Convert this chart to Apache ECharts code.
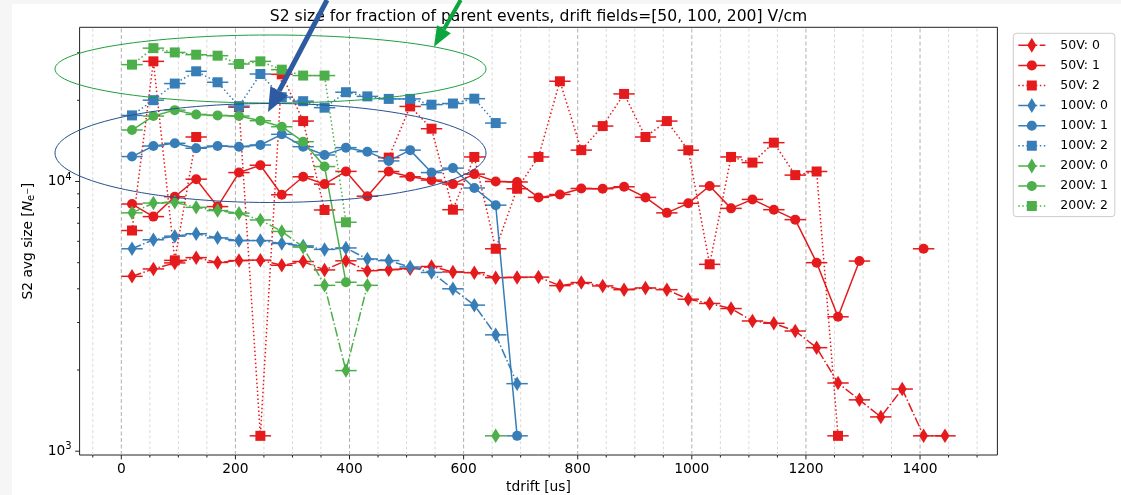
<!DOCTYPE html>
<html>
<head>
<meta charset="utf-8">
<title>S2 size for fraction of parent events</title>
<script src="https://cdn.jsdelivr.net/npm/echarts@6/dist/echarts.min.js"></script>
<style>
  html, body { margin: 0; padding: 0; background: #fff; }
  #chart { width: 1121px; height: 495px; }
</style>
</head>
<body>
<div id="chart"></div>
<script>
// bin centres of tdrift [us], bins are 37.5 us wide
const tdrift = [18.75, 56.25, 93.75, 131.25, 168.75, 206.25, 243.75, 281.25, 318.75, 356.25,
  393.75, 431.25, 468.75, 506.25, 543.75, 581.25, 618.75, 656.25, 693.75, 731.25,
  768.75, 806.25, 843.75, 881.25, 918.75, 956.25, 993.75, 1031.25, 1068.75, 1106.25,
  1143.75, 1181.25, 1218.75, 1256.25, 1293.75, 1331.25, 1368.75, 1406.25, 1443.75];
const binHalfWidth = 18.75;

// S2 avg size [N_e-] (null = no point)
const s50V_0 = [4450, 4740, 4990, 5220, 5010, 5090, 5110, 4890, 5050, 4700,
  5080, 4670, 4710, 4750, 4840, 4620, 4590, 4400, 4410, 4420,
  4110, 4220, 4100, 3970, 4030, 3970, 3660, 3530, 3380, 3040,
  2980, 2790, 2420, 1790, 1550, 1340, 1700, 1140, 1140];
const s50V_1 = [8250, 7410, 8780, 10200, 8070, 10790, 11490, 8930, 10410, 9780,
  10900, 8820, 10890, 10410, 10120, 9780, 10650, 10000, 9960, 8730,
  8950, 9420, 9400, 9560, 8730, 7650, 8300, 9620, 7950, 8580,
  7860, 7220, 5000, 3150, 5070, null, null, 5630];
const s50V_2 = [6580, 27890, 5100, 14620, null, 18860, 1140, 24970, 16750, 7840,
  null, null, 12260, 18980, 15690, 7860, 12330, 5630, 9400, 12330,
  23530, 13070, 16050, 21120, 14620, 16750, 13060, 4930, 12330, 11750,
  13930, 10560, 10890, 1140];
const s100V_0 = [5630, 6080, 6270, 6400, 6180, 6040, 6040, 5890, 5770, 5600,
  5670, 5160, 5090, 4820, 4600, 4000, 3480, 2700, 1780];
const s100V_1 = [12370, 13540, 13860, 13280, 13540, 13460, 13660, 14960, 13460, 12540,
  13350, 12900, 11920, 13070, 10790, 11210, 9460, 8170, 1140];
const s100V_2 = [17580, 20020, 23070, 25620, 23330, 19030, 25030, 20540, 19850, 18780,
  21430, 20680, 20240, 20240, 19270, 19460, 20280, 16470];
const s200V_0 = [7650, 8320, 8370, 8020, 7800, 7630, 7200, 6530, 5710, 4120,
  1990, 4120, null, null, null, null, null, 1140];
const s200V_1 = [15520, 17480, 18390, 17730, 17580, 17480, 16800, 15960, 14050, 11360, 4230];
const s200V_2 = [27120, 31220, 30100, 29520, 29270, 27260, 27890, 25980, 24700, 24700, 7060];

// axes
const xMin = -73.1, xMax = 1535.6;
const yMin = 968, yMax = 37300;
const xMajorTicks = [0, 200, 400, 600, 800, 1000, 1200, 1400];
const xMinorTicks = [-50, 50, 100, 150, 250, 300, 350, 450, 500, 550, 650, 700, 750,
  850, 900, 950, 1050, 1100, 1150, 1250, 1300, 1350, 1450, 1500];
const yMajorTicks = [1000, 10000];
const yMinorTicks = [2000, 3000, 4000, 5000, 6000, 7000, 8000, 9000, 20000, 30000];

const RED = "#e41a1c", BLUE = "#377eb8", GREEN = "#4daf4a";
const FONT = "DejaVu Sans";
const LABEL_SIZE = 13.8;
const DASHDOT = [9.6, 2.4, 1.5, 2.4];
const DOTTED = [1.5, 2.5];

const seriesDefs = [
  { name: "50V: 0", values: s50V_0, color: RED, marker: "diamond", dash: "dashdot" },
  { name: "50V: 1", values: s50V_1, color: RED, marker: "circle", dash: "solid" },
  { name: "50V: 2", values: s50V_2, color: RED, marker: "square", dash: "dotted" },
  { name: "100V: 0", values: s100V_0, color: BLUE, marker: "diamond", dash: "dashdot" },
  { name: "100V: 1", values: s100V_1, color: BLUE, marker: "circle", dash: "solid" },
  { name: "100V: 2", values: s100V_2, color: BLUE, marker: "square", dash: "dotted" },
  { name: "200V: 0", values: s200V_0, color: GREEN, marker: "diamond", dash: "dashdot" },
  { name: "200V: 1", values: s200V_1, color: GREEN, marker: "circle", dash: "solid" },
  { name: "200V: 2", values: s200V_2, color: GREEN, marker: "square", dash: "dotted" },
];

const symbolSize = { diamond: [9, 14.5], circle: 10, square: 10 };
const symbolName = { diamond: "diamond", circle: "circle", square: "rect" };
const lineType = { dashdot: DASHDOT, solid: "solid", dotted: DOTTED };

// legend icons: line sample + marker, drawn in a 32 x 15 box
function rectPath(x0, y0, x1, y1) {
  return `M${x0} ${y0}L${x1} ${y0}L${x1} ${y1}L${x0} ${y1}Z`;
}
function legendIcon(def) {
  let segs;
  if (def.dash === "solid") segs = [[0, 27]];
  else if (def.dash === "dotted") segs = [[0, 1.5], [4, 5.5], [8, 9.5], [17.5, 19], [21.5, 23], [25.5, 27]];
  else segs = [[0, 9.6], [17.4, 19], [21.4, 27]];
  let p = "M0 0M32 15";
  segs.forEach((s) => { p += rectPath(s[0], 6.75, s[1], 8.25); });
  if (def.marker === "diamond") p += "M9 7.5L13.5 0L18 7.5L13.5 15Z";
  else if (def.marker === "square") p += rectPath(8.5, 2.5, 18.5, 12.5);
  else {
    for (let i = 0; i < 24; i++) {
      const a = (i / 24) * Math.PI * 2;
      p += (i === 0 ? "M" : "L") + (13.5 + 5 * Math.cos(a)).toFixed(2) + " " + (7.5 + 5 * Math.sin(a)).toFixed(2);
    }
    p += "Z";
  }
  return "path://" + p;
}

function points(values) {
  return values.map((v, i) => [tdrift[i], v == null ? "-" : v]);
}

const series = [];

// vertical grid lines (major dashed, minor lighter)
series.push({
  type: "custom",
  name: "grid",
  silent: true,
  z: 1,
  data: xMajorTicks.map((v) => [v, yMin, 1]).concat(xMinorTicks.map((v) => [v, yMin, 0])),
  encode: { x: 0, y: 1 },
  renderItem: (params, api) => {
    const v = api.value(0);
    const major = api.value(2) === 1;
    const a = api.coord([v, yMin]);
    const b = api.coord([v, yMax]);
    return {
      type: "line",
      shape: { x1: a[0], y1: a[1], x2: b[0], y2: b[1] },
      style: major
        ? { stroke: "#b0b0b0", lineWidth: 1, lineDash: [4, 2.5] }
        : { stroke: "#d6d6d6", lineWidth: 0.9, lineDash: [3, 2.5] },
    };
  },
});

seriesDefs.forEach((def) => {
  series.push({
    type: "custom",
    name: def.name + " xerr",
    silent: true,
    data: points(def.values).filter((p) => p[1] !== "-"),
    encode: { x: 0, y: 1 },
    renderItem: (params, api) => {
      const x = api.value(0);
      const y = api.value(1);
      const a = api.coord([x - binHalfWidth, y]);
      const b = api.coord([x + binHalfWidth, y]);
      return {
        type: "line",
        shape: { x1: a[0], y1: a[1], x2: b[0], y2: b[1] },
        style: { stroke: def.color, lineWidth: 1.5 },
      };
    },
  });
  series.push({
    type: "line",
    name: def.name,
    data: points(def.values),
    symbol: symbolName[def.marker],
    symbolSize: symbolSize[def.marker],
    showSymbol: true,
    connectNulls: false,
    silent: true,
    lineStyle: { color: def.color, width: 1.5, type: lineType[def.dash] },
    itemStyle: { color: def.color, borderWidth: 0 },
    emphasis: { disabled: true },
  });
});

// tick marks on the spines
series.push({
  type: "custom",
  name: "xticks",
  silent: true,
  clip: false,
  z: 5,
  data: xMajorTicks.map((v) => [v, yMin, 4.4]).concat(xMinorTicks.map((v) => [v, yMin, 2.5])),
  encode: { x: 0, y: 1 },
  renderItem: (params, api) => {
    const p = api.coord([api.value(0), yMin]);
    return {
      type: "line",
      shape: { x1: p[0], y1: p[1], x2: p[0], y2: p[1] + api.value(2) },
      style: { stroke: "#222", lineWidth: 1 },
    };
  },
});
series.push({
  type: "custom",
  name: "yticks",
  silent: true,
  clip: false,
  z: 5,
  data: yMajorTicks.map((v) => [xMin, v, 4.4]).concat(yMinorTicks.map((v) => [xMin, v, 2.5])),
  encode: { x: 0, y: 1 },
  renderItem: (params, api) => {
    const p = api.coord([xMin, api.value(1)]);
    return {
      type: "line",
      shape: { x1: p[0], y1: p[1], x2: p[0] - api.value(2), y2: p[1] },
      style: { stroke: "#222", lineWidth: 1 },
    };
  },
});

function isPow10(v) {
  const l = Math.log10(v);
  return Math.abs(l - Math.round(l)) < 1e-6;
}

const chart = echarts.init(document.getElementById("chart"), null, { renderer: "canvas" });
chart.setOption({
  animation: false,
  backgroundColor: "#fff",
  title: {
    text: "S2 size for fraction of parent events, drift fields=[50, 100, 200] V/cm",
    left: 538.5,
    top: 8.5,
    textAlign: "center",
    padding: 0,
    textStyle: { fontFamily: FONT, fontSize: 15.6, fontWeight: "normal", color: "#000" },
  },
  grid: {
    left: 79.6,
    top: 27.3,
    width: 917.8,
    height: 427.7,
    show: true,
    borderColor: "#222",
    borderWidth: 1,
    backgroundColor: "transparent",
    containLabel: false,
    outerBoundsMode: "none",
  },
  legend: {
    orient: "vertical",
    left: 1013.3,
    top: 33.3,
    padding: [4.5, 7, 3, 5],
    itemWidth: 32,
    itemHeight: 15,
    itemGap: 5.1,
    backgroundColor: "#fff",
    borderColor: "#cccccc",
    borderWidth: 1,
    borderRadius: 3,
    selectedMode: false,
    itemStyle: { borderWidth: 0 },
    textStyle: { fontFamily: FONT, fontSize: 12.5, color: "#000", padding: [0, 0, 0, 5] },
    data: seriesDefs.map((d) => ({ name: d.name, icon: legendIcon(d) })),
  },
  xAxis: {
    type: "value",
    min: xMin,
    max: xMax,
    splitNumber: 8,
    name: "tdrift [us]",
    nameLocation: "middle",
    nameGap: 21,
    nameTextStyle: { fontFamily: FONT, fontSize: LABEL_SIZE, color: "#000" },
    axisLine: { show: false },
    axisTick: { show: false },
    splitLine: { show: false },
    axisLabel: {
      margin: 7,
      fontFamily: FONT,
      fontSize: LABEL_SIZE,
      color: "#000",
      formatter: (v) => (Math.abs(v % 200) < 1e-6 ? String(Math.round(v)) : ""),
    },
  },
  yAxis: {
    type: "log",
    logBase: 10,
    min: yMin,
    max: yMax,
    name: "{t|S2 avg size [}{i|N}{s|e}{u|−}{t|]}",
    nameLocation: "middle",
    nameGap: 38,
    nameRotate: 90,
    nameTextStyle: {
      fontFamily: FONT,
      fontSize: LABEL_SIZE,
      color: "#000",
      rich: {
        t: { fontFamily: FONT, fontSize: LABEL_SIZE, color: "#000" },
        i: { fontFamily: FONT, fontSize: LABEL_SIZE, fontStyle: "italic", color: "#000" },
        s: { fontFamily: FONT, fontSize: 10, color: "#000", padding: [7, 0, 0, 0] },
        u: { fontFamily: FONT, fontSize: 8, color: "#000", padding: [0, 0, 1, 0] },
      },
    },
    axisLine: { show: false },
    axisTick: { show: false },
    splitLine: { show: false },
    minorTick: { show: false },
    axisLabel: {
      margin: 8,
      fontFamily: FONT,
      fontSize: LABEL_SIZE,
      color: "#000",
      formatter: (v) => (isPow10(v) ? "{b|10}{p|" + Math.round(Math.log10(v)) + "}" : ""),
      rich: {
        b: { fontFamily: FONT, fontSize: LABEL_SIZE, color: "#000" },
        p: { fontFamily: FONT, fontSize: 10, color: "#000", padding: [0, 0, 9, 0] },
      },
    },
  },
  graphic: [
    { type: "rect", silent: true, shape: { x: 0, y: 0, width: 12, height: 495 }, style: { fill: "#f6f6f6" } },
    { type: "rect", silent: true, shape: { x: 0, y: 0, width: 1121, height: 4 }, style: { fill: "#f6f6f6" } },
    {
      type: "ellipse", silent: true, z: 100,
      shape: { cx: 270.5, cy: 69, rx: 215.5, ry: 34 },
      style: { fill: "none", stroke: "#1f9e3e", lineWidth: 1 },
    },
    {
      type: "ellipse", silent: true, z: 100,
      shape: { cx: 270.5, cy: 153, rx: 215.5, ry: 49.5 },
      style: { fill: "none", stroke: "#27508f", lineWidth: 1 },
    },
    {
      type: "line", silent: true, z: 100,
      shape: { x1: 327, y1: 0, x2: 279.2, y2: 90.8 },
      style: { stroke: "#2d5aa0", lineWidth: 5 },
    },
    {
      type: "polygon", silent: true, z: 100,
      shape: { points: [[268, 112], [288.05, 95.46], [270.35, 86.14]] },
      style: { fill: "#2d5aa0" },
    },
    {
      type: "line", silent: true, z: 100,
      shape: { x1: 460.7, y1: 0, x2: 443.9, y2: 29.3 },
      style: { stroke: "#0aa53c", lineWidth: 4 },
    },
    {
      type: "polygon", silent: true, z: 100,
      shape: { points: [[434, 46.7], [450.8, 33.3], [437.0, 25.3]] },
      style: { fill: "#0aa53c" },
    },
  ],
  series: series,
});
</script>
</body>
</html>
